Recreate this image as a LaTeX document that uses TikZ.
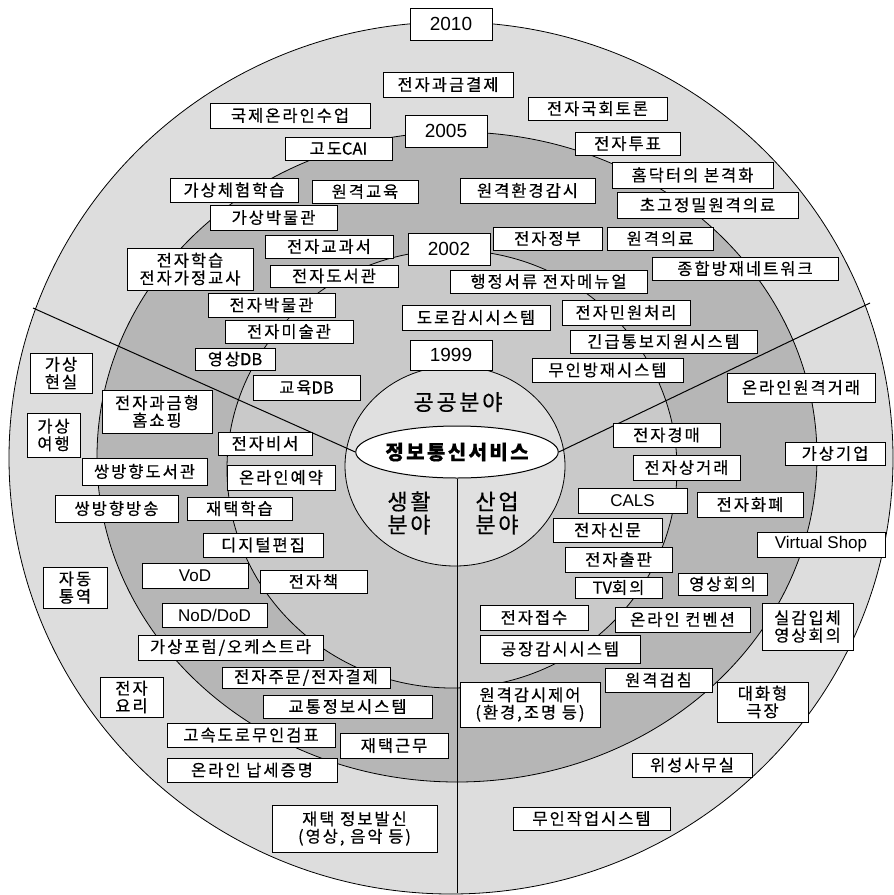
\documentclass[tikz,border=0pt]{standalone}
\usepackage{fontspec}
\usetikzlibrary{shapes.geometric}
\newfontfamily\kr[LetterSpace=12, FakeBold=0.4]{Noto Sans CJK KR}
\newfontfamily\krc[FakeBold=0.4]{Noto Sans CJK KR}
\newfontfamily\lat{Liberation Sans}
\newcommand{\bx}[7][]{\node[bx,#1,minimum width={#5-#3},minimum height={#6-#4}] (#2) at ({(#3+#5)/2},{(#4+#6)/2}) {#7};}
\newcommand{\la}[1]{{\krc #1}}
\begin{document}
\begin{tikzpicture}[x=1pt,y=-1pt,
  bx/.style={draw, fill=white, line width=0.9pt, inner sep=0pt, align=center,
    font=\kr\fontsize{16.5}{17.5}\selectfont},
  yr/.style={font=\lat\fontsize{19}{21}\selectfont},
  lt/.style={font=\lat\fontsize{17}{19}\selectfont},
  ring/.style={draw=black, line width=0.8pt},
  divider/.style={draw=black, line width=1pt},
  big/.style={font=\kr\fontsize{22}{23}\selectfont, align=center, inner sep=0pt}]
\useasboundingbox (0,0) rectangle (894,895);
% rings
\path[ring, fill=gray!27] (451,458) ellipse [x radius=442pt, y radius=436pt];
\path[ring, fill=gray!57] (457,457) ellipse [x radius=360pt, y radius=325pt];
\path[ring, fill=gray!42] (452,469) ellipse [x radius=225pt, y radius=219pt];
\path[ring, fill=gray!24] (455,466) ellipse [x radius=110pt, y radius=100pt];
% centre ellipse
\node[draw, ellipse, fill=white, line width=1pt, minimum width=194pt, minimum height=52pt, inner sep=0pt,
  font=\kr\bfseries\fontsize{20}{22}\selectfont] (core) at (457,452) {정보통신서비스};
% dividers
\coordinate (oL) at (33,308);
\coordinate (oR) at (870,303);
\coordinate (oB) at (457,893);
\draw[divider] (core.west) -- (oL);
\draw[divider] (core.east) -- (oR);
\draw[divider] (core.south) -- (oB);
% sector labels
\node[big] (pub) at (458,402) {공공분야};
\node[big] (life) at (409,513) {생활\\분야};
\node[big] (ind) at (497,513) {산업\\분야};
% boxes
\bx[yr]{y2010}{410}{8}{492}{40}{2010}
\bx{n1}{383}{72}{513}{97}{전자과금결제}
\bx{n2}{210}{103}{370}{128}{국제온라인수업}
\bx{n3}{528}{97}{667}{120}{전자국회토론}
\bx[yr]{y2005}{405}{115}{487}{147}{2005}
\bx{n4}{285}{137}{392}{160}{고도\la{CAI}}
\bx{n5}{575}{132}{680}{155}{전자투표}
\bx{n6}{170}{178}{298}{202}{가상체험학습}
\bx{n7}{312}{180}{418}{203}{원격교육}
\bx{n8}{460}{178}{595}{203}{원격환경감시}
\bx{n9}{612}{162}{773}{188}{홈닥터의 본격화}
\bx{n10}{210}{205}{337}{230}{가상박물관}
\bx{n11}{617}{192}{798}{218}{초고정밀원격의료}
\bx{n12}{265}{235}{393}{258}{전자교과서}
\bx[yr]{y2002}{408}{233}{490}{265}{2002}
\bx{n13}{493}{227}{602}{250}{전자정부}
\bx{n14}{607}{227}{713}{250}{원격의료}
\bx{n15}{652}{257}{838}{280}{종합방재네트워크}
\bx{n16}{127}{248}{253}{290}{전자학습\\전자가정교사}
\bx{n17}{270}{265}{398}{287}{전자도서관}
\bx{n18}{450}{270}{647}{293}{행정서류 전자메뉴얼}
\bx{n19}{208}{293}{335}{317}{전자박물관}
\bx{n20}{402}{305}{550}{330}{도로감시시스템}
\bx{n21}{562}{300}{690}{325}{전자민원처리}
\bx{n22}{225}{320}{353}{343}{전자미술관}
\bx{n23}{570}{330}{757}{353}{긴급통보지원시스템}
\bx{n24}{195}{348}{275}{370}{영상\la{DB}}
\bx[yr]{y1999}{410}{340}{492}{370}{1999}
\bx{n25}{532}{358}{683}{382}{무인방재시스템}
\bx{n26}{30}{353}{92}{393}{가상\\현실}
\bx{n27}{253}{375}{360}{400}{교육\la{DB}}
\bx{n28}{727}{373}{875}{402}{온라인원격거래}
\bx{n29}{102}{390}{212}{433}{전자과금형\\홈쇼핑}
\bx{n30}{27}{413}{80}{457}{가상\\여행}
\bx{n31}{218}{432}{312}{455}{전자비서}
\bx{n32}{613}{423}{720}{447}{전자경매}
\bx{n33}{785}{442}{885}{465}{가상기업}
\bx{n34}{82}{458}{207}{485}{쌍방향도서관}
\bx{n35}{227}{465}{335}{490}{온라인예약}
\bx{n36}{633}{455}{740}{480}{전자상거래}
\bx{n37}{55}{495}{178}{522}{쌍방향방송}
\bx{n38}{187}{497}{292}{520}{재택학습}
\bx[lt]{n39}{578}{488}{687}{513}{CALS}
\bx{n40}{697}{492}{803}{517}{전자화폐}
\bx{n41}{553}{518}{662}{542}{전자신문}
\bx{n42}{203}{533}{323}{557}{디지털편집}
\bx[lt]{n43}{757}{532}{885}{557}{Virtual Shop}
\bx{n44}{565}{547}{672}{572}{전자출판}
\bx[lt]{n45}{142}{563}{248}{588}{VoD}
\bx{n46}{260}{570}{367}{593}{전자책}
\bx{n47}{43}{567}{107}{608}{자동\\통역}
\bx{n48}{575}{577}{662}{598}{\la{TV}회의}
\bx{n49}{678}{573}{767}{595}{영상회의}
\bx[lt]{n50}{162}{603}{267}{627}{NoD/DoD}
\bx{n51}{480}{605}{588}{630}{전자접수}
\bx{n52}{615}{607}{750}{632}{온라인 컨벤션}
\bx{n53}{762}{603}{853}{650}{실감입체\\영상회의}
\bx{n54}{138}{635}{323}{660}{가상포럼/오케스트라}
\bx{n55}{480}{635}{640}{663}{공장감시시스템}
\bx{n56}{222}{667}{390}{688}{전자주문/전자결제}
\bx{n57}{605}{668}{712}{692}{원격검침}
\bx{n58}{100}{677}{163}{717}{전자\\요리}
\bx{n59}{460}{682}{600}{727}{원격감시제어\\(환경,조명 등)}
\bx{n60}{717}{682}{808}{722}{대화형\\극장}
\bx{n61}{263}{695}{432}{718}{교통정보시스템}
\bx{n62}{167}{723}{335}{747}{고속도로무인검표}
\bx{n63}{340}{733}{448}{758}{재택근무}
\bx{n64}{167}{758}{337}{782}{온라인 납세증명}
\bx{n65}{632}{753}{752}{777}{위성사무실}
\bx{n66}{272}{805}{437}{852}{재택 정보발신\\(영상, 음악 등)}
\bx{n67}{513}{807}{670}{830}{무인작업시스템}
\end{tikzpicture}
\end{document}
